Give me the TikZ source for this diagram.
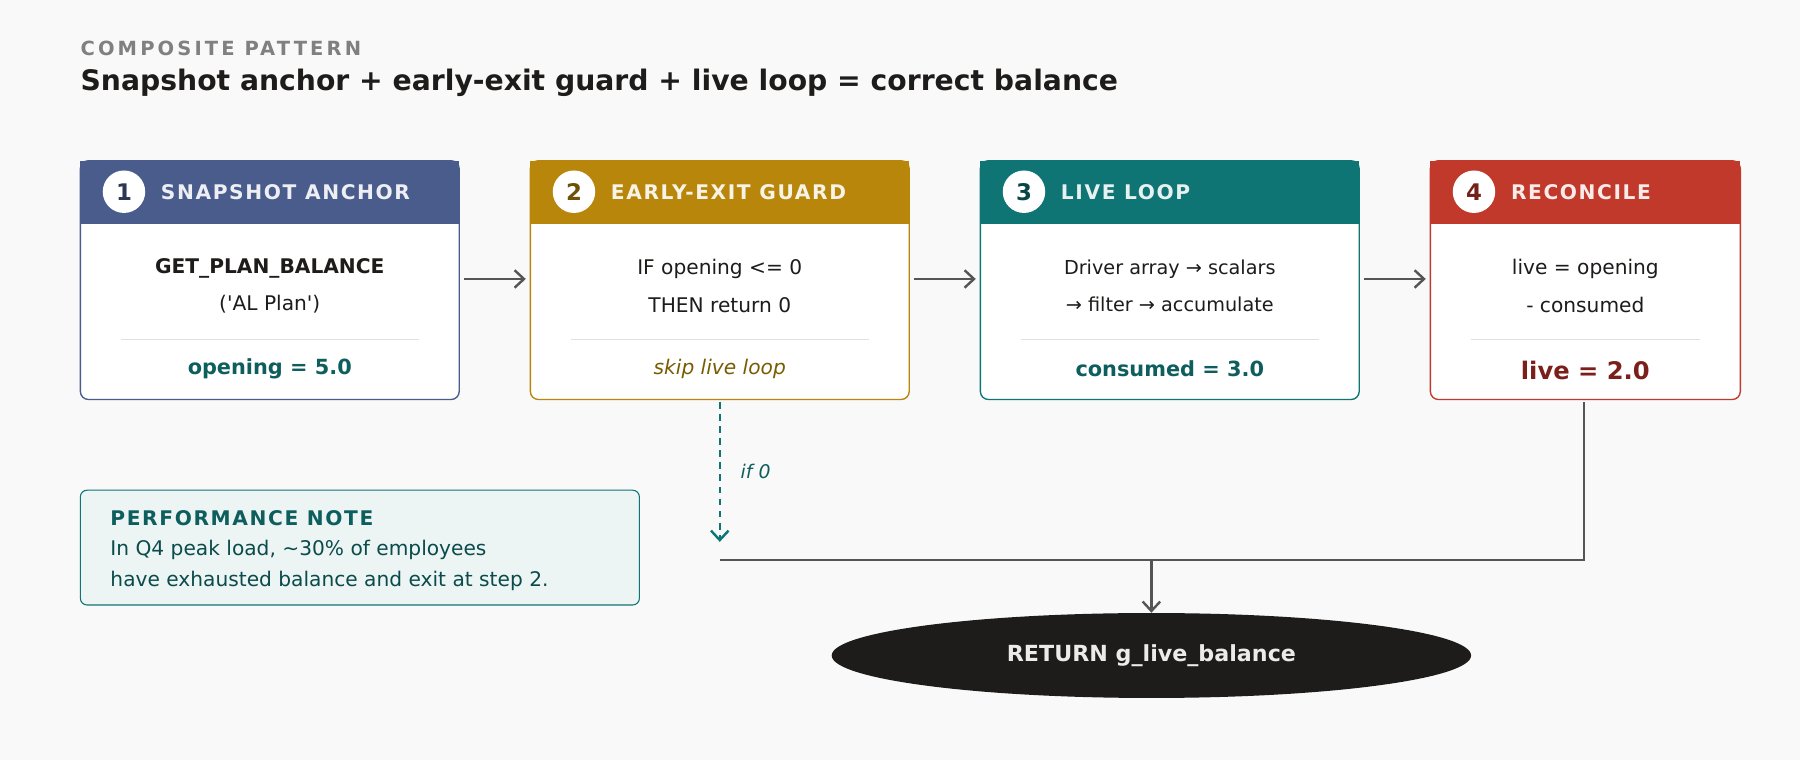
\documentclass[tikz,border=0pt]{standalone}
\usepackage{fontspec}
\setmainfont{DejaVu Sans}
\newfontfamily\spaced[LetterSpace=8]{DejaVu Sans}
\newfontfamily\wide[LetterSpace=16]{DejaVu Sans}
\usetikzlibrary{arrows.meta,shapes.geometric}
\definecolor{bg}{HTML}{F9F9F9}
\definecolor{cblue}{HTML}{4A5C8C}
\definecolor{cgold}{HTML}{B8860B}
\definecolor{cteal}{HTML}{0E7474}
\definecolor{cred}{HTML}{C0392B}
\definecolor{dteal}{HTML}{0E5E5E}
\definecolor{dgold}{HTML}{7A5C00}
\definecolor{dred}{HTML}{7A1F1A}
\definecolor{txt}{HTML}{1E1C1A}
\definecolor{arr}{HTML}{555555}
\begin{document}
\begin{tikzpicture}[x=0.03cm,y=-0.03cm,
  body/.style={font=\fontsize{15}{18}\selectfont,text=txt,align=center},
  hdr/.style={font=\spaced\bfseries\fontsize{15}{17}\selectfont,anchor=west,inner sep=0},
  badge/.style={circle,fill=white,minimum size=37*0.03cm,inner sep=0,font=\bfseries\fontsize{17}{19}\selectfont},
  flow/.style={-{Straight Barb[length=7pt,width=13pt]},line width=1.8pt,draw=arr},
  sep/.style={draw=black!12,line width=0.8pt}]
\fill[bg] (0,0) rectangle (1568,662);
\useasboundingbox (0,0) rectangle (1568,662);
\node[anchor=west,inner sep=0,text=gray,font=\wide\bfseries\fontsize{14.5}{16}\selectfont] (kick) at (70,42) {COMPOSITE PATTERN};
\node[anchor=west,inner sep=0,text=txt,font=\bfseries\fontsize{21}{24}\selectfont] (title) at (70,72) {Snapshot anchor + early-exit guard + live loop = correct balance};
% boxes
\foreach \x/\w/\c/\n/\t in {70/330/cblue/1/SNAPSHOT ANCHOR,462/330/cgold/2/EARLY-EXIT GUARD,854/330/cteal/3/LIVE LOOP,1246/270/cred/4/RECONCILE}{
  \draw[\c,fill=white,line width=1pt,rounded corners=6] (\x,140) rectangle ++(\w,208);
  \fill[\c] (\x,140) rectangle ++(\w,55);
  \node[badge,text=\c!60!black] (b\n) at (\x+38,167) {\n};
  \node[hdr,text=white!90!\c] (h\n) at (\x+70,167) {\t};
  \draw[sep] (\x+35,296) -- (\x+\w-35,296);
}
\node[body] (t1) at (235,249) {\textbf{GET\_PLAN\_BALANCE}\\[10pt](\textquotesingle AL Plan\textquotesingle)};
\node[body,text=dteal,font=\bfseries\fontsize{15.5}{18}\selectfont] (r1) at (235,321) {opening = 5.0};
\node[body] (t2) at (627,249) {IF opening <= 0\\[10pt]THEN return 0};
\node[body,text=dgold,font=\itshape\fontsize{15}{18}\selectfont] (r2) at (627,321) {skip live loop};
\node[body,font=\fontsize{14.3}{18}\selectfont] (t3) at (1019,249) {Driver array → scalars\\[10pt]→ filter → accumulate};
\node[body,text=dteal,font=\bfseries\fontsize{15.5}{18}\selectfont] (r3) at (1019,321) {consumed = 3.0};
\node[body] (t4) at (1381,249) {live = opening\\[10pt]- consumed};
\node[body,text=dred,font=\bfseries\fontsize{18}{20}\selectfont] (r4) at (1381,323) {live = 2.0};
% arrows between
\coordinate (a1) at (404,243); \coordinate (a2) at (458,243);
\coordinate (a3) at (796,243); \coordinate (a4) at (850,243);
\coordinate (a5) at (1188,243); \coordinate (a6) at (1242,243);
\draw[flow] (a1) -- (a2); \draw[flow] (a3) -- (a4); \draw[flow] (a5) -- (a6);
% dashed
\coordinate (d1) at (627,350); \coordinate (d2) at (627,472);
\draw[cteal,line width=1.8pt,dash pattern=on 5pt off 4pt,-{Straight Barb[length=7pt,width=13pt]}] (d1) -- (d2);
\node[text=dteal,inner sep=0,font=\itshape\fontsize{14}{16}\selectfont,anchor=west] (if0) at (645,411) {if 0};
% merge
\coordinate (m1) at (627,488); \coordinate (m2) at (1380,488); \coordinate (m3) at (1380,350); \coordinate (m4) at (1003,488);
\draw[arr,line width=1.8pt] (m1) -- (m2) -- (m3);
\node[ellipse,fill=txt,minimum width=557*0.03cm,minimum height=74*0.03cm,inner sep=0,text=white!92!black,font=\bfseries\fontsize{16.5}{18}\selectfont] (ret) at (1003,571) {RETURN g\_live\_balance};
\draw[flow] (m4) -- (ret.north);
% note
\draw[cteal,fill=cteal!8,line width=0.8pt,rounded corners=5] (70,427) rectangle (557,527);
\node[anchor=west,inner sep=0,text=dteal,font=\spaced\bfseries\fontsize{15}{17}\selectfont] (nt) at (96,451) {PERFORMANCE NOTE};
\node[anchor=north west,align=left,text=dteal!80!black,font=\fontsize{15}{18}\selectfont,inner sep=0] (nb) at (96,470) {In Q4 peak load, \textasciitilde30\% of employees\\[5pt]have exhausted balance and exit at step 2.};
\end{tikzpicture}
\end{document}
